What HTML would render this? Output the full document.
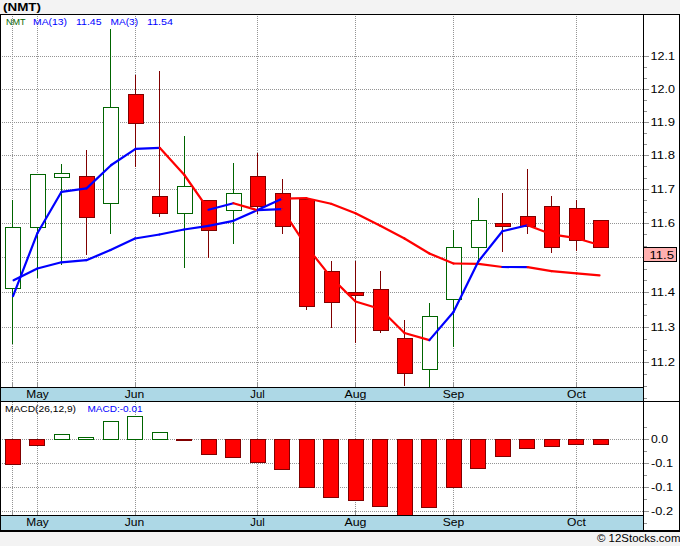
<!DOCTYPE html><html><head><meta charset="utf-8"><style>html,body{margin:0;padding:0;background:#f3f3f3;overflow:hidden}svg{display:block;font-family:"Liberation Sans",sans-serif;}</style></head><body>
<svg width="680" height="546" viewBox="0 0 680 546">
<rect x="0" y="0" width="680" height="546" fill="#f3f3f3"/>
<g shape-rendering="crispEdges">
<rect x="0" y="14" width="680" height="518" fill="#000"/>
<rect x="1" y="15" width="678" height="515" fill="#fff"/>
<rect x="643" y="15" width="1" height="515" fill="#000"/>
<rect x="1" y="387" width="643" height="1" fill="#000"/>
<rect x="1" y="388" width="642" height="13" fill="#add8e6"/>
<rect x="1" y="401" width="678" height="1" fill="#000"/>
<rect x="644" y="398" width="3" height="1" fill="#949494"/>
<rect x="644" y="386" width="3" height="1" fill="#949494"/>
<rect x="644" y="374" width="3" height="1" fill="#949494"/>
<rect x="644" y="362" width="5" height="1" fill="#949494"/>
<line x1="2" y1="362.5" x2="643" y2="362.5" stroke="#949494" stroke-width="1" stroke-dasharray="1,1" stroke-dashoffset="0"/>
<rect x="644" y="350" width="3" height="1" fill="#949494"/>
<rect x="644" y="339" width="3" height="1" fill="#949494"/>
<rect x="644" y="327" width="5" height="1" fill="#949494"/>
<line x1="2" y1="327.5" x2="643" y2="327.5" stroke="#949494" stroke-width="1" stroke-dasharray="1,1" stroke-dashoffset="0"/>
<rect x="644" y="315" width="3" height="1" fill="#949494"/>
<rect x="644" y="304" width="3" height="1" fill="#949494"/>
<rect x="644" y="292" width="5" height="1" fill="#949494"/>
<line x1="2" y1="292.5" x2="643" y2="292.5" stroke="#949494" stroke-width="1" stroke-dasharray="1,1" stroke-dashoffset="0"/>
<rect x="644" y="280" width="3" height="1" fill="#949494"/>
<rect x="644" y="269" width="3" height="1" fill="#949494"/>
<rect x="644" y="257" width="5" height="1" fill="#949494"/>
<line x1="2" y1="257.5" x2="643" y2="257.5" stroke="#949494" stroke-width="1" stroke-dasharray="1,1" stroke-dashoffset="0"/>
<rect x="644" y="246" width="3" height="1" fill="#949494"/>
<rect x="644" y="234" width="3" height="1" fill="#949494"/>
<rect x="644" y="223" width="5" height="1" fill="#949494"/>
<line x1="2" y1="223.5" x2="643" y2="223.5" stroke="#949494" stroke-width="1" stroke-dasharray="1,1" stroke-dashoffset="0"/>
<rect x="644" y="212" width="3" height="1" fill="#949494"/>
<rect x="644" y="200" width="3" height="1" fill="#949494"/>
<rect x="644" y="189" width="5" height="1" fill="#949494"/>
<line x1="2" y1="189.5" x2="643" y2="189.5" stroke="#949494" stroke-width="1" stroke-dasharray="1,1" stroke-dashoffset="0"/>
<rect x="644" y="178" width="3" height="1" fill="#949494"/>
<rect x="644" y="166" width="3" height="1" fill="#949494"/>
<rect x="644" y="155" width="5" height="1" fill="#949494"/>
<line x1="2" y1="155.5" x2="643" y2="155.5" stroke="#949494" stroke-width="1" stroke-dasharray="1,1" stroke-dashoffset="0"/>
<rect x="644" y="144" width="3" height="1" fill="#949494"/>
<rect x="644" y="133" width="3" height="1" fill="#949494"/>
<rect x="644" y="122" width="5" height="1" fill="#949494"/>
<line x1="2" y1="122.5" x2="643" y2="122.5" stroke="#949494" stroke-width="1" stroke-dasharray="1,1" stroke-dashoffset="0"/>
<rect x="644" y="111" width="3" height="1" fill="#949494"/>
<rect x="644" y="100" width="3" height="1" fill="#949494"/>
<rect x="644" y="89" width="5" height="1" fill="#949494"/>
<line x1="2" y1="89.5" x2="643" y2="89.5" stroke="#949494" stroke-width="1" stroke-dasharray="1,1" stroke-dashoffset="0"/>
<rect x="644" y="78" width="3" height="1" fill="#949494"/>
<rect x="644" y="67" width="3" height="1" fill="#949494"/>
<rect x="644" y="56" width="5" height="1" fill="#949494"/>
<line x1="2" y1="56.5" x2="643" y2="56.5" stroke="#949494" stroke-width="1" stroke-dasharray="1,1" stroke-dashoffset="0"/>
<line x1="12.5" y1="16" x2="12.5" y2="382" stroke="#949494" stroke-width="1" stroke-dasharray="1,1"/>
<rect x="12" y="382" width="1" height="5" fill="#949494"/>
<line x1="12.5" y1="402" x2="12.5" y2="510" stroke="#949494" stroke-width="1" stroke-dasharray="1,1"/>
<rect x="12" y="510" width="1" height="5" fill="#949494"/>
<line x1="37.5" y1="16" x2="37.5" y2="382" stroke="#949494" stroke-width="1" stroke-dasharray="1,1"/>
<rect x="37" y="382" width="1" height="5" fill="#949494"/>
<line x1="37.5" y1="402" x2="37.5" y2="510" stroke="#949494" stroke-width="1" stroke-dasharray="1,1"/>
<rect x="37" y="510" width="1" height="5" fill="#949494"/>
<line x1="135.5" y1="16" x2="135.5" y2="382" stroke="#949494" stroke-width="1" stroke-dasharray="1,1"/>
<rect x="135" y="382" width="1" height="5" fill="#949494"/>
<line x1="135.5" y1="402" x2="135.5" y2="510" stroke="#949494" stroke-width="1" stroke-dasharray="1,1"/>
<rect x="135" y="510" width="1" height="5" fill="#949494"/>
<line x1="257.5" y1="16" x2="257.5" y2="382" stroke="#949494" stroke-width="1" stroke-dasharray="1,1"/>
<rect x="257" y="382" width="1" height="5" fill="#949494"/>
<line x1="257.5" y1="402" x2="257.5" y2="510" stroke="#949494" stroke-width="1" stroke-dasharray="1,1"/>
<rect x="257" y="510" width="1" height="5" fill="#949494"/>
<line x1="355.5" y1="16" x2="355.5" y2="382" stroke="#949494" stroke-width="1" stroke-dasharray="1,1"/>
<rect x="355" y="382" width="1" height="5" fill="#949494"/>
<line x1="355.5" y1="402" x2="355.5" y2="510" stroke="#949494" stroke-width="1" stroke-dasharray="1,1"/>
<rect x="355" y="510" width="1" height="5" fill="#949494"/>
<line x1="453.5" y1="16" x2="453.5" y2="382" stroke="#949494" stroke-width="1" stroke-dasharray="1,1"/>
<rect x="453" y="382" width="1" height="5" fill="#949494"/>
<line x1="453.5" y1="402" x2="453.5" y2="510" stroke="#949494" stroke-width="1" stroke-dasharray="1,1"/>
<rect x="453" y="510" width="1" height="5" fill="#949494"/>
<line x1="576.5" y1="16" x2="576.5" y2="382" stroke="#949494" stroke-width="1" stroke-dasharray="1,1"/>
<rect x="576" y="382" width="1" height="5" fill="#949494"/>
<line x1="576.5" y1="402" x2="576.5" y2="510" stroke="#949494" stroke-width="1" stroke-dasharray="1,1"/>
<rect x="576" y="510" width="1" height="5" fill="#949494"/>
<line x1="2" y1="439.5" x2="643" y2="439.5" stroke="#949494" stroke-width="1" stroke-dasharray="1,1"/>
<rect x="644" y="439" width="5" height="1" fill="#949494"/>
<line x1="2" y1="463.5" x2="643" y2="463.5" stroke="#949494" stroke-width="1" stroke-dasharray="1,1"/>
<rect x="644" y="463" width="5" height="1" fill="#949494"/>
<line x1="2" y1="487.5" x2="643" y2="487.5" stroke="#949494" stroke-width="1" stroke-dasharray="1,1"/>
<rect x="644" y="487" width="5" height="1" fill="#949494"/>
<line x1="2" y1="511.5" x2="643" y2="511.5" stroke="#949494" stroke-width="1" stroke-dasharray="1,1"/>
<rect x="644" y="511" width="5" height="1" fill="#949494"/>
<rect x="644" y="427" width="3" height="1" fill="#949494"/>
<rect x="644" y="451" width="3" height="1" fill="#949494"/>
<rect x="644" y="475" width="3" height="1" fill="#949494"/>
<rect x="644" y="499" width="3" height="1" fill="#949494"/>
<rect x="644" y="523" width="3" height="1" fill="#949494"/>
<rect x="12" y="200" width="1" height="144" fill="#006400"/>
<rect x="5" y="227" width="16" height="62" fill="#006400"/>
<rect x="6" y="228" width="14" height="60" fill="#fff"/>
<rect x="37" y="174" width="1" height="104" fill="#006400"/>
<rect x="30" y="174" width="16" height="54" fill="#006400"/>
<rect x="31" y="175" width="14" height="52" fill="#fff"/>
<rect x="61" y="164" width="1" height="101" fill="#006400"/>
<rect x="54" y="173" width="16" height="5" fill="#006400"/>
<rect x="55" y="174" width="14" height="3" fill="#fff"/>
<rect x="86" y="150" width="1" height="105" fill="#800000"/>
<rect x="79" y="176" width="16" height="42" fill="#800000"/>
<rect x="80" y="177" width="14" height="40" fill="#ff0000"/>
<rect x="110" y="29" width="1" height="205" fill="#006400"/>
<rect x="103" y="107" width="16" height="97" fill="#006400"/>
<rect x="104" y="108" width="14" height="95" fill="#fff"/>
<rect x="135" y="75" width="1" height="92" fill="#800000"/>
<rect x="128" y="94" width="16" height="30" fill="#800000"/>
<rect x="129" y="95" width="14" height="28" fill="#ff0000"/>
<rect x="159" y="71" width="1" height="146" fill="#800000"/>
<rect x="152" y="196" width="16" height="18" fill="#800000"/>
<rect x="153" y="197" width="14" height="16" fill="#ff0000"/>
<rect x="184" y="136" width="1" height="132" fill="#006400"/>
<rect x="177" y="186" width="16" height="28" fill="#006400"/>
<rect x="178" y="187" width="14" height="26" fill="#fff"/>
<rect x="208" y="200" width="1" height="58" fill="#800000"/>
<rect x="201" y="200" width="16" height="31" fill="#800000"/>
<rect x="202" y="201" width="14" height="29" fill="#ff0000"/>
<rect x="233" y="163" width="1" height="81" fill="#006400"/>
<rect x="226" y="193" width="16" height="18" fill="#006400"/>
<rect x="227" y="194" width="14" height="16" fill="#fff"/>
<rect x="257" y="153" width="1" height="61" fill="#800000"/>
<rect x="250" y="176" width="16" height="31" fill="#800000"/>
<rect x="251" y="177" width="14" height="29" fill="#ff0000"/>
<rect x="282" y="179" width="1" height="55" fill="#800000"/>
<rect x="275" y="193" width="16" height="34" fill="#800000"/>
<rect x="276" y="194" width="14" height="32" fill="#ff0000"/>
<rect x="306" y="199" width="1" height="111" fill="#800000"/>
<rect x="299" y="199" width="16" height="108" fill="#800000"/>
<rect x="300" y="200" width="14" height="106" fill="#ff0000"/>
<rect x="331" y="261" width="1" height="67" fill="#800000"/>
<rect x="324" y="271" width="16" height="32" fill="#800000"/>
<rect x="325" y="272" width="14" height="30" fill="#ff0000"/>
<rect x="355" y="261" width="1" height="82" fill="#800000"/>
<rect x="348" y="292" width="16" height="4" fill="#800000"/>
<rect x="349" y="293" width="14" height="2" fill="#ff0000"/>
<rect x="380" y="271" width="1" height="62" fill="#800000"/>
<rect x="373" y="289" width="16" height="42" fill="#800000"/>
<rect x="374" y="290" width="14" height="40" fill="#ff0000"/>
<rect x="404" y="320" width="1" height="66" fill="#800000"/>
<rect x="397" y="338" width="16" height="36" fill="#800000"/>
<rect x="398" y="339" width="14" height="34" fill="#ff0000"/>
<rect x="429" y="303" width="1" height="84" fill="#006400"/>
<rect x="422" y="316" width="16" height="54" fill="#006400"/>
<rect x="423" y="317" width="14" height="52" fill="#fff"/>
<rect x="453" y="230" width="1" height="117" fill="#006400"/>
<rect x="446" y="247" width="16" height="53" fill="#006400"/>
<rect x="447" y="248" width="14" height="51" fill="#fff"/>
<rect x="478" y="198" width="1" height="63" fill="#006400"/>
<rect x="471" y="220" width="16" height="28" fill="#006400"/>
<rect x="472" y="221" width="14" height="26" fill="#fff"/>
<rect x="502" y="193" width="1" height="59" fill="#800000"/>
<rect x="495" y="223" width="16" height="4" fill="#800000"/>
<rect x="496" y="224" width="14" height="2" fill="#ff0000"/>
<rect x="527" y="169" width="1" height="65" fill="#800000"/>
<rect x="520" y="216" width="16" height="11" fill="#800000"/>
<rect x="521" y="217" width="14" height="9" fill="#ff0000"/>
<rect x="551" y="196" width="1" height="57" fill="#800000"/>
<rect x="544" y="206" width="16" height="42" fill="#800000"/>
<rect x="545" y="207" width="14" height="40" fill="#ff0000"/>
<rect x="576" y="200" width="1" height="51" fill="#800000"/>
<rect x="569" y="208" width="16" height="33" fill="#800000"/>
<rect x="570" y="209" width="14" height="31" fill="#ff0000"/>
<rect x="600" y="220" width="1" height="28" fill="#800000"/>
<rect x="593" y="220" width="16" height="28" fill="#800000"/>
<rect x="594" y="221" width="14" height="26" fill="#ff0000"/>
<rect x="5" y="439" width="16" height="26" fill="#800000"/>
<rect x="6" y="440" width="14" height="24" fill="#ff0000"/>
<rect x="29" y="439" width="16" height="7" fill="#800000"/>
<rect x="30" y="440" width="14" height="5" fill="#ff0000"/>
<rect x="54" y="434" width="16" height="6" fill="#006400"/>
<rect x="55" y="435" width="14" height="4" fill="#fff"/>
<rect x="78" y="437" width="16" height="3" fill="#006400"/>
<rect x="79" y="438" width="14" height="1" fill="#fff"/>
<rect x="103" y="421" width="16" height="19" fill="#006400"/>
<rect x="104" y="422" width="14" height="17" fill="#fff"/>
<rect x="127" y="416" width="16" height="24" fill="#006400"/>
<rect x="128" y="417" width="14" height="22" fill="#fff"/>
<rect x="152" y="432" width="16" height="8" fill="#006400"/>
<rect x="153" y="433" width="14" height="6" fill="#fff"/>
<rect x="176" y="439" width="16" height="2" fill="#800000"/>
<rect x="201" y="439" width="16" height="16" fill="#800000"/>
<rect x="202" y="440" width="14" height="14" fill="#ff0000"/>
<rect x="225" y="439" width="16" height="19" fill="#800000"/>
<rect x="226" y="440" width="14" height="17" fill="#ff0000"/>
<rect x="250" y="439" width="16" height="24" fill="#800000"/>
<rect x="251" y="440" width="14" height="22" fill="#ff0000"/>
<rect x="274" y="439" width="16" height="31" fill="#800000"/>
<rect x="275" y="440" width="14" height="29" fill="#ff0000"/>
<rect x="299" y="439" width="16" height="49" fill="#800000"/>
<rect x="300" y="440" width="14" height="47" fill="#ff0000"/>
<rect x="323" y="439" width="16" height="59" fill="#800000"/>
<rect x="324" y="440" width="14" height="57" fill="#ff0000"/>
<rect x="348" y="439" width="16" height="62" fill="#800000"/>
<rect x="349" y="440" width="14" height="60" fill="#ff0000"/>
<rect x="372" y="439" width="16" height="68" fill="#800000"/>
<rect x="373" y="440" width="14" height="66" fill="#ff0000"/>
<rect x="397" y="439" width="16" height="82" fill="#800000"/>
<rect x="398" y="440" width="14" height="80" fill="#ff0000"/>
<rect x="421" y="439" width="16" height="69" fill="#800000"/>
<rect x="422" y="440" width="14" height="67" fill="#ff0000"/>
<rect x="446" y="439" width="16" height="49" fill="#800000"/>
<rect x="447" y="440" width="14" height="47" fill="#ff0000"/>
<rect x="470" y="439" width="16" height="30" fill="#800000"/>
<rect x="471" y="440" width="14" height="28" fill="#ff0000"/>
<rect x="495" y="439" width="16" height="18" fill="#800000"/>
<rect x="496" y="440" width="14" height="16" fill="#ff0000"/>
<rect x="519" y="439" width="16" height="10" fill="#800000"/>
<rect x="520" y="440" width="14" height="8" fill="#ff0000"/>
<rect x="544" y="439" width="16" height="8" fill="#800000"/>
<rect x="545" y="440" width="14" height="6" fill="#ff0000"/>
<rect x="568" y="439" width="16" height="6" fill="#800000"/>
<rect x="569" y="440" width="14" height="4" fill="#ff0000"/>
<rect x="593" y="439" width="16" height="6" fill="#800000"/>
<rect x="594" y="440" width="14" height="4" fill="#ff0000"/>
<rect x="1" y="515" width="643" height="1" fill="#000"/>
<rect x="1" y="516" width="642" height="14" fill="#add8e6"/>
<rect x="643" y="247" width="34" height="15" fill="#000"/>
<rect x="644" y="248" width="32" height="13" fill="#ffb0b0"/>
</g>
<line x1="13.6" y1="280.35" x2="37.4" y2="268.5" stroke="#0000ff" stroke-width="2.2" stroke-linecap="round"/>
<line x1="37.4" y1="268.5" x2="61.4" y2="262.3" stroke="#0000ff" stroke-width="2.2" stroke-linecap="round"/>
<line x1="61.4" y1="262.3" x2="86.4" y2="260.2" stroke="#0000ff" stroke-width="2.2" stroke-linecap="round"/>
<line x1="86.4" y1="260.2" x2="110.5" y2="250.1" stroke="#0000ff" stroke-width="2.2" stroke-linecap="round"/>
<line x1="110.5" y1="250.1" x2="135" y2="238.5" stroke="#0000ff" stroke-width="2.2" stroke-linecap="round"/>
<line x1="135" y1="238.5" x2="159.5" y2="234.5" stroke="#0000ff" stroke-width="2.2" stroke-linecap="round"/>
<line x1="159.5" y1="234.5" x2="184" y2="229.5" stroke="#0000ff" stroke-width="2.2" stroke-linecap="round"/>
<line x1="184" y1="229.5" x2="208.5" y2="225.8" stroke="#0000ff" stroke-width="2.2" stroke-linecap="round"/>
<line x1="208.5" y1="225.8" x2="233.4" y2="220.8" stroke="#0000ff" stroke-width="2.2" stroke-linecap="round"/>
<line x1="233.4" y1="220.8" x2="257.5" y2="210" stroke="#0000ff" stroke-width="2.2" stroke-linecap="round"/>
<line x1="257.5" y1="210" x2="282" y2="198.7" stroke="#0000ff" stroke-width="2.2" stroke-linecap="round"/>
<line x1="282" y1="198.7" x2="306.5" y2="198.2" stroke="#ff0000" stroke-width="2.2" stroke-linecap="round"/>
<line x1="306.5" y1="198.2" x2="331.1" y2="203.8" stroke="#ff0000" stroke-width="2.2" stroke-linecap="round"/>
<line x1="331.1" y1="203.8" x2="355.5" y2="213.2" stroke="#ff0000" stroke-width="2.2" stroke-linecap="round"/>
<line x1="355.5" y1="213.2" x2="380.3" y2="225.8" stroke="#ff0000" stroke-width="2.2" stroke-linecap="round"/>
<line x1="380.3" y1="225.8" x2="404.5" y2="238.5" stroke="#ff0000" stroke-width="2.2" stroke-linecap="round"/>
<line x1="404.5" y1="238.5" x2="429.4" y2="253.5" stroke="#ff0000" stroke-width="2.2" stroke-linecap="round"/>
<line x1="429.4" y1="253.5" x2="453.5" y2="263.5" stroke="#ff0000" stroke-width="2.2" stroke-linecap="round"/>
<line x1="453.5" y1="263.5" x2="478.5" y2="263.9" stroke="#ff0000" stroke-width="2.2" stroke-linecap="round"/>
<line x1="478.5" y1="263.9" x2="502.4" y2="267" stroke="#ff0000" stroke-width="2.2" stroke-linecap="round"/>
<line x1="502.4" y1="267" x2="527.6" y2="267.1" stroke="#0000ff" stroke-width="2.2" stroke-linecap="round"/>
<line x1="527.6" y1="267.1" x2="551.5" y2="271.1" stroke="#ff0000" stroke-width="2.2" stroke-linecap="round"/>
<line x1="551.5" y1="271.1" x2="576.5" y2="273.4" stroke="#ff0000" stroke-width="2.2" stroke-linecap="round"/>
<line x1="576.5" y1="273.4" x2="599.5" y2="275.41" stroke="#ff0000" stroke-width="2.2" stroke-linecap="round"/>
<line x1="13.06" y1="296.07" x2="37.4" y2="233.2" stroke="#0000ff" stroke-width="2.2" stroke-linecap="round"/>
<line x1="37.4" y1="233.2" x2="61.5" y2="191.8" stroke="#0000ff" stroke-width="2.2" stroke-linecap="round"/>
<line x1="61.5" y1="191.8" x2="86.6" y2="188.4" stroke="#0000ff" stroke-width="2.2" stroke-linecap="round"/>
<line x1="86.6" y1="188.4" x2="111.3" y2="165" stroke="#0000ff" stroke-width="2.2" stroke-linecap="round"/>
<line x1="111.3" y1="165" x2="135.6" y2="148.8" stroke="#0000ff" stroke-width="2.2" stroke-linecap="round"/>
<line x1="135.6" y1="148.8" x2="159.7" y2="147.8" stroke="#0000ff" stroke-width="2.2" stroke-linecap="round"/>
<line x1="159.7" y1="147.8" x2="184.4" y2="175" stroke="#ff0000" stroke-width="2.2" stroke-linecap="round"/>
<line x1="184.4" y1="175" x2="208.5" y2="209.7" stroke="#ff0000" stroke-width="2.2" stroke-linecap="round"/>
<line x1="208.5" y1="209.7" x2="233.4" y2="203.2" stroke="#0000ff" stroke-width="2.2" stroke-linecap="round"/>
<line x1="233.4" y1="203.2" x2="257.5" y2="210.2" stroke="#ff0000" stroke-width="2.2" stroke-linecap="round"/>
<line x1="257.5" y1="210.2" x2="282" y2="209.2" stroke="#0000ff" stroke-width="2.2" stroke-linecap="round"/>
<line x1="282" y1="209.2" x2="306.5" y2="246.4" stroke="#ff0000" stroke-width="2.2" stroke-linecap="round"/>
<line x1="306.5" y1="246.4" x2="331.3" y2="277.6" stroke="#ff0000" stroke-width="2.2" stroke-linecap="round"/>
<line x1="331.3" y1="277.6" x2="355.5" y2="301.5" stroke="#ff0000" stroke-width="2.2" stroke-linecap="round"/>
<line x1="355.5" y1="301.5" x2="380.3" y2="309" stroke="#ff0000" stroke-width="2.2" stroke-linecap="round"/>
<line x1="380.3" y1="309" x2="404.5" y2="333" stroke="#ff0000" stroke-width="2.2" stroke-linecap="round"/>
<line x1="404.5" y1="333" x2="429.4" y2="340.1" stroke="#ff0000" stroke-width="2.2" stroke-linecap="round"/>
<line x1="429.4" y1="340.1" x2="453.5" y2="312" stroke="#0000ff" stroke-width="2.2" stroke-linecap="round"/>
<line x1="453.5" y1="312" x2="478.3" y2="261.5" stroke="#0000ff" stroke-width="2.2" stroke-linecap="round"/>
<line x1="478.3" y1="261.5" x2="502.4" y2="231.2" stroke="#0000ff" stroke-width="2.2" stroke-linecap="round"/>
<line x1="502.4" y1="231.2" x2="527.6" y2="225.3" stroke="#0000ff" stroke-width="2.2" stroke-linecap="round"/>
<line x1="527.6" y1="225.3" x2="551.5" y2="234.3" stroke="#ff0000" stroke-width="2.2" stroke-linecap="round"/>
<line x1="551.5" y1="234.3" x2="576.5" y2="238.2" stroke="#ff0000" stroke-width="2.2" stroke-linecap="round"/>
<line x1="576.5" y1="238.2" x2="599.54" y2="245.02" stroke="#ff0000" stroke-width="2.2" stroke-linecap="round"/>
<text x="3" y="11" font-size="11.5" fill="#000" font-weight="bold" text-anchor="start" textLength="38" lengthAdjust="spacingAndGlyphs">(NMT)</text>
<text x="6" y="24.7" font-size="9.7" fill="#006400" font-weight="normal" text-anchor="start" textLength="19.5" lengthAdjust="spacingAndGlyphs">NMT</text>
<text x="33" y="24.7" font-size="9.7" fill="#0000ff" font-weight="normal" text-anchor="start" textLength="34" lengthAdjust="spacingAndGlyphs">MA(13)</text>
<text x="76" y="24.7" font-size="9.7" fill="#0000ff" font-weight="normal" text-anchor="start" textLength="25.5" lengthAdjust="spacingAndGlyphs">11.45</text>
<text x="110.5" y="24.7" font-size="9.7" fill="#0000ff" font-weight="normal" text-anchor="start" textLength="27.5" lengthAdjust="spacingAndGlyphs">MA(3)</text>
<text x="147" y="24.7" font-size="9.7" fill="#0000ff" font-weight="normal" text-anchor="start" textLength="26" lengthAdjust="spacingAndGlyphs">11.54</text>
<text x="5" y="411.8" font-size="9.7" fill="#000" font-weight="normal" text-anchor="start" textLength="71" lengthAdjust="spacingAndGlyphs">MACD(26,12,9)</text>
<text x="87.5" y="411.8" font-size="9.7" fill="#0000ff" font-weight="normal" text-anchor="start" textLength="55" lengthAdjust="spacingAndGlyphs">MACD:-0.01</text>
<text x="650.5" y="366" font-size="11" fill="#000" font-weight="normal" text-anchor="start" textLength="24.5" lengthAdjust="spacingAndGlyphs">11.2</text>
<text x="650.5" y="331" font-size="11" fill="#000" font-weight="normal" text-anchor="start" textLength="24.5" lengthAdjust="spacingAndGlyphs">11.3</text>
<text x="650.5" y="296" font-size="11" fill="#000" font-weight="normal" text-anchor="start" textLength="24.5" lengthAdjust="spacingAndGlyphs">11.4</text>
<text x="650.5" y="227" font-size="11" fill="#000" font-weight="normal" text-anchor="start" textLength="24.5" lengthAdjust="spacingAndGlyphs">11.6</text>
<text x="650.5" y="193" font-size="11" fill="#000" font-weight="normal" text-anchor="start" textLength="24.5" lengthAdjust="spacingAndGlyphs">11.7</text>
<text x="650.5" y="159" font-size="11" fill="#000" font-weight="normal" text-anchor="start" textLength="24.5" lengthAdjust="spacingAndGlyphs">11.8</text>
<text x="650.5" y="126" font-size="11" fill="#000" font-weight="normal" text-anchor="start" textLength="24.5" lengthAdjust="spacingAndGlyphs">11.9</text>
<text x="650.5" y="93" font-size="11" fill="#000" font-weight="normal" text-anchor="start" textLength="24.5" lengthAdjust="spacingAndGlyphs">12.0</text>
<text x="650.5" y="60" font-size="11" fill="#000" font-weight="normal" text-anchor="start" textLength="24.5" lengthAdjust="spacingAndGlyphs">12.1</text>
<text x="649.5" y="258.5" font-size="11" fill="#000" font-weight="normal" text-anchor="start" textLength="24.5" lengthAdjust="spacingAndGlyphs">11.5</text>
<text x="651" y="443" font-size="11" fill="#000" font-weight="normal" text-anchor="start" textLength="17" lengthAdjust="spacingAndGlyphs">0.0</text>
<text x="651" y="467" font-size="11" fill="#000" font-weight="normal" text-anchor="start" textLength="22" lengthAdjust="spacingAndGlyphs">-0.1</text>
<text x="651" y="491" font-size="11" fill="#000" font-weight="normal" text-anchor="start" textLength="22" lengthAdjust="spacingAndGlyphs">-0.1</text>
<text x="651" y="515" font-size="11" fill="#000" font-weight="normal" text-anchor="start" textLength="22" lengthAdjust="spacingAndGlyphs">-0.2</text>
<text x="26.25" y="398" font-size="11" fill="#000" font-weight="normal" text-anchor="start" textLength="22.5" lengthAdjust="spacingAndGlyphs">May</text>
<text x="26.25" y="525.8" font-size="11" fill="#000" font-weight="normal" text-anchor="start" textLength="22.5" lengthAdjust="spacingAndGlyphs">May</text>
<text x="124.75" y="398" font-size="11" fill="#000" font-weight="normal" text-anchor="start" textLength="19.5" lengthAdjust="spacingAndGlyphs">Jun</text>
<text x="124.75" y="525.8" font-size="11" fill="#000" font-weight="normal" text-anchor="start" textLength="19.5" lengthAdjust="spacingAndGlyphs">Jun</text>
<text x="250.25" y="398" font-size="11" fill="#000" font-weight="normal" text-anchor="start" textLength="14.5" lengthAdjust="spacingAndGlyphs">Jul</text>
<text x="250.25" y="525.8" font-size="11" fill="#000" font-weight="normal" text-anchor="start" textLength="14.5" lengthAdjust="spacingAndGlyphs">Jul</text>
<text x="344.5" y="398" font-size="11" fill="#000" font-weight="normal" text-anchor="start" textLength="22" lengthAdjust="spacingAndGlyphs">Aug</text>
<text x="344.5" y="525.8" font-size="11" fill="#000" font-weight="normal" text-anchor="start" textLength="22" lengthAdjust="spacingAndGlyphs">Aug</text>
<text x="442.75" y="398" font-size="11" fill="#000" font-weight="normal" text-anchor="start" textLength="21.5" lengthAdjust="spacingAndGlyphs">Sep</text>
<text x="442.75" y="525.8" font-size="11" fill="#000" font-weight="normal" text-anchor="start" textLength="21.5" lengthAdjust="spacingAndGlyphs">Sep</text>
<text x="567.1" y="398" font-size="11" fill="#000" font-weight="normal" text-anchor="start" textLength="18.8" lengthAdjust="spacingAndGlyphs">Oct</text>
<text x="567.1" y="525.8" font-size="11" fill="#000" font-weight="normal" text-anchor="start" textLength="18.8" lengthAdjust="spacingAndGlyphs">Oct</text>
<text x="597" y="542" font-size="11" fill="#000" font-weight="normal" text-anchor="start" textLength="83.5" lengthAdjust="spacingAndGlyphs">© 12Stocks.com</text>
</svg></body></html>
